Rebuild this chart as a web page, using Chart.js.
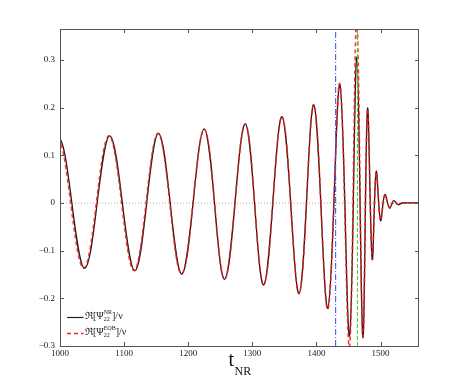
<!DOCTYPE html>
<html><head><meta charset="utf-8">
<script src="https://cdn.jsdelivr.net/npm/chart.js@4"></script>
<style>html,body{margin:0;padding:0;background:#fff;} canvas{display:block;}</style>
</head><body>
<canvas id="c" width="463" height="389"></canvas>
<script>
// ---- data (extrema of each wave) ----
const xTicks = [1000, 1100, 1200, 1300, 1400, 1500];
const yTicks = [-0.3, -0.2, -0.1, 0, 0.1, 0.2, 0.3];
const xRange = [1000, 1560];
const yRange = [-0.3, 0.365];

const tNR = [959, 998.5, 1038.5, 1077.6, 1116.7, 1153.6, 1190, 1225, 1256.8, 1289, 1317.7, 1346.3, 1372.9,
  1395.8, 1417.7, 1436.5, 1451.6, 1463, 1472.4, 1479.7, 1487, 1493.2, 1500, 1506.7, 1514,
  1520.8, 1527, 1534, 1560];
const vNR = [-0.134, 0.135, -0.137, 0.141, -0.142, 0.146, -0.149, 0.155, -0.160, 0.166, -0.172, 0.181, -0.190,
  0.206, -0.221, 0.248, -0.279, 0.306, -0.282, 0.198, -0.118, 0.066, -0.037, 0.018, -0.0105,
  0.005, -0.0035, 0, 0];

const tEOB = [957, 996.5, 1037, 1076.5, 1115.5, 1153, 1189.5, 1225, 1256.8, 1289, 1317.7, 1346.3, 1372.9,
  1395.8, 1417.7, 1436.3, 1451.4, 1462.7, 1472.4, 1479.7, 1487, 1493.2, 1500, 1506.7, 1514,
  1520.8, 1527, 1534, 1560];
const vEOB = [-0.134, 0.135, -0.137, 0.141, -0.142, 0.146, -0.149, 0.155, -0.160, 0.166, -0.172, 0.181, -0.190,
  0.206, -0.223, 0.251, -0.302, 0.385, -0.280, 0.196, -0.117, 0.065, -0.036, 0.017, -0.010,
  0.005, -0.003, 0, 0];

const markerBlue = 1430;
const markerGreen = 1464;
const legendSup = ['NR', 'EOB'];

// ---- chart ----
const pts = (ts, vs) => ts.map((t, i) => ({x: t, y: vs[i]}));
const SERIF = '"Liberation Serif", "Times New Roman", serif';

const decor = {
  id: 'decor',
  afterDatasetsDraw(chart) {
    const {ctx, chartArea: a, scales: {x, y}} = chart;
    ctx.save();
    ctx.strokeStyle = '#555';
    ctx.lineWidth = 1;
    ctx.setLineDash([]);
    ctx.strokeRect(Math.round(a.left) + 0.5, Math.round(a.top) + 0.5,
      Math.round(a.right - a.left) - 1, Math.round(a.bottom - a.top));
    ctx.beginPath();
    const L = 4;
    xTicks.forEach(v => {
      const px = Math.round(x.getPixelForValue(v)) + 0.5;
      ctx.moveTo(px, a.top); ctx.lineTo(px, a.top + L);
      ctx.moveTo(px, a.bottom); ctx.lineTo(px, a.bottom - L);
    });
    yTicks.forEach(v => {
      const py = Math.round(y.getPixelForValue(v)) + 0.5;
      ctx.moveTo(a.left, py); ctx.lineTo(a.left + L, py);
      ctx.moveTo(a.right, py); ctx.lineTo(a.right - L, py);
    });
    ctx.stroke();

    // legend
    const rows = [
      {y: 317.5, color: '#222', dash: [], w: 1.2, sup: legendSup[0]},
      {y: 333.5, color: '#ff2020', dash: [4, 3], w: 1.6, sup: legendSup[1]}
    ];
    rows.forEach(r => {
      ctx.beginPath();
      ctx.strokeStyle = r.color; ctx.lineWidth = r.w; ctx.setLineDash(r.dash);
      ctx.moveTo(67, r.y); ctx.lineTo(83.5, r.y); ctx.stroke();
      ctx.setLineDash([]);
      ctx.fillStyle = '#222';
      ctx.textBaseline = 'alphabetic'; ctx.textAlign = 'left';
      let tx = 85; const by = r.y + 1;
      ctx.font = '10px ' + SERIF;
      const s1 = 'ℜ[Ψ';
      ctx.fillText(s1, tx, by); tx += ctx.measureText(s1).width;
      ctx.font = '6px ' + SERIF;
      ctx.fillText(r.sup, tx, by - 5);
      ctx.fillText('22', tx, by + 2.5);
      tx += Math.max(ctx.measureText(r.sup).width, ctx.measureText('22').width);
      ctx.font = '10px ' + SERIF;
      ctx.fillText(']/ν', tx, by);
    });

    // x title
    ctx.fillStyle = '#111';
    ctx.font = '20px ' + SERIF;
    ctx.fillText('t', 228.5, 366);
    const tw = ctx.measureText('t').width;
    ctx.font = '12px ' + SERIF;
    ctx.fillText('NR', 228.5 + tw + 0.5, 374.5);
    ctx.restore();
  }
};

new Chart(document.getElementById('c'), {
  type: 'line',
  data: {
    datasets: [
      {label: 'zero', data: pts([xRange[0], xRange[1]], [0, 0]), borderColor: '#aaaaaa',
        borderWidth: 1, borderDash: [1, 2], pointRadius: 0, order: 5},
      {label: 'NR', data: pts(tNR, vNR), borderColor: '#1a1a1a', borderWidth: 1.3,
        pointRadius: 0, tension: 0.36, order: 3},
      {label: 'EOB', data: pts(tEOB, vEOB), borderColor: 'rgba(255,20,20,0.85)', borderWidth: 1.6,
        borderDash: [4, 3], pointRadius: 0, tension: 0.36, order: 2},
      {label: 'blue', data: pts([markerBlue, markerBlue], yRange), borderColor: '#3050f0',
        borderWidth: 1, borderDash: [6, 2, 1, 2], pointRadius: 0, order: 1},
      {label: 'green', data: pts([markerGreen, markerGreen], yRange), borderColor: '#40d020',
        borderWidth: 1, borderDash: [4, 2], pointRadius: 0, order: 0}
    ]
  },
  options: {
    responsive: false,
    animation: false,
    devicePixelRatio: 1,
    layout: {padding: {top: 29, right: 44, left: 0, bottom: 0}},
    plugins: {legend: {display: false}, tooltip: {enabled: false}},
    scales: {
      x: {
        type: 'linear', min: xRange[0], max: xRange[1],
        grid: {display: false, drawTicks: false}, border: {display: false},
        afterBuildTicks: s => { s.ticks = xTicks.map(v => ({value: v})); },
        afterFit: s => { s.height = 43; },
        ticks: {autoSkip: false, maxRotation: 0, padding: 2, color: '#222',
          font: {family: SERIF, size: 9}, callback: v => String(v)}
      },
      y: {
        type: 'linear', min: yRange[0], max: yRange[1],
        grid: {display: false, drawTicks: false}, border: {display: false},
        afterBuildTicks: s => { s.ticks = yTicks.map(v => ({value: v})); },
        afterFit: s => { s.width = 60; },
        ticks: {autoSkip: false, padding: 5, color: '#222',
          font: {family: SERIF, size: 9},
          callback: v => v === 0 ? '0' : (v < 0 ? '\u2212' : '') + Math.abs(v).toFixed(1)}
      }
    }
  },
  plugins: [decor]
});
</script>
</body></html>
